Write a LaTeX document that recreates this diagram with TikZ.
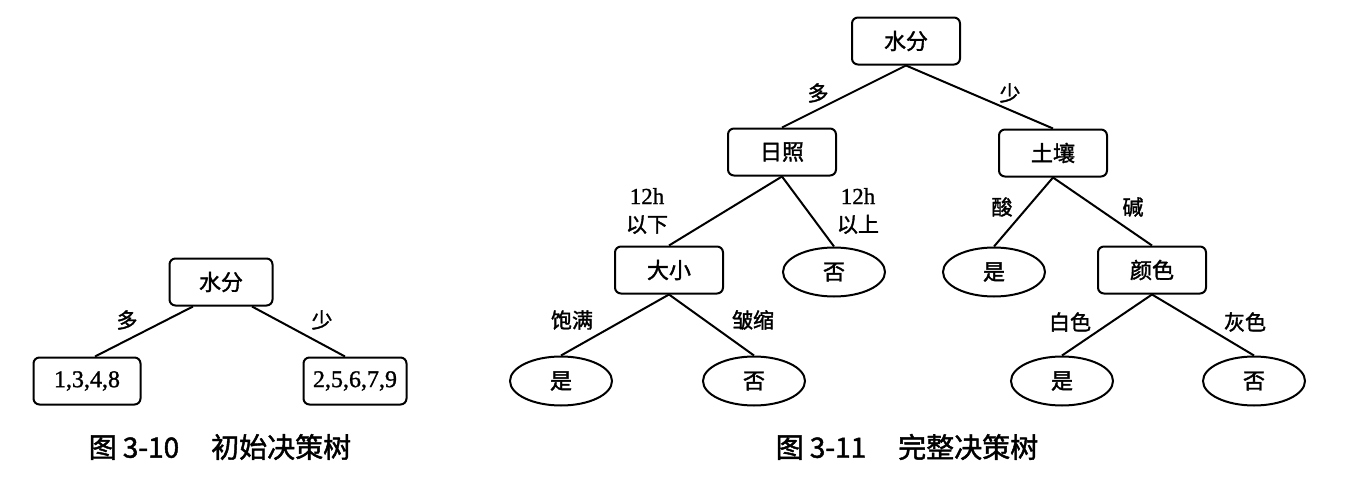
\documentclass[tikz,border=0pt]{standalone}
\usepackage{fontspec}
\setmainfont{Liberation Serif}[RawFeature={embolden=1.2}]
\newfontfamily\cjk{Noto Sans CJK SC}[RawFeature={embolden=1.6}]
\usetikzlibrary{shapes.geometric}

\begin{document}
\begin{tikzpicture}[x=1pt,y=-1pt,line width=2pt,
   every node/.style={font=\cjk\fontsize{22}{24}\selectfont},
   attr/.style={draw,rounded corners=6pt,minimum width=108pt,minimum height=47pt,inner sep=2pt},
   leaf/.style={draw,ellipse,minimum width=102pt,minimum height=49pt,inner sep=0pt},
   nums/.style={attr,font=\fontsize{24}{26}\selectfont},
   lbl/.style={font=\cjk\fontsize{21}{28}\selectfont,align=center},
   caption/.style={font=\cjk\fontsize{28}{30}\selectfont}]
  \useasboundingbox (0,0) rectangle (1345,482);

  % initial tree
  \node[attr,minimum width=103pt] (W1) at (221,282) {水分};
  \node[nums,minimum width=107pt] (S1) at (87,381) {1,3,4,8};
  \node[nums,minimum width=103pt] (S2) at (355,381) {2,5,6,7,9};
  \draw ([xshift=-28pt]W1.south) -- ([xshift=8pt]S1.north);
  \draw ([xshift=31pt]W1.south) -- ([xshift=-10pt]S2.north);
  \node[lbl] (L1a) at (127,320) {多};
  \node[lbl] (L1b) at (322,320) {少};
  \node[caption] (C1) at (220,447) {图\hspace{6pt}3-10\hspace{32pt}初始决策树};

  % complete tree
  \node[attr] (W2) at (906,41)  {水分};
  \node[attr] (SUN) at (782,152) {日照};
  \node[attr] (SOIL) at (1053,153) {土壤};
  \node[attr] (SIZE) at (669,270) {大小};
  \node[leaf] (N1) at (834,272) {否};
  \node[leaf] (Y1) at (994,272) {是};
  \node[attr] (COL) at (1152,270) {颜色};
  \node[leaf] (Y2) at (561,381) {是};
  \node[leaf] (N2) at (754,381) {否};
  \node[leaf] (Y3) at (1062,381) {是};
  \node[leaf] (N3) at (1254,381) {否};

  \path (W2.south)   edge (SUN.north)  edge (SOIL.north)
        (SUN.south)  edge (SIZE.north) edge (N1.north)
        (SOIL.south) edge (Y1.north)   edge (COL.north)
        (SIZE.south) edge (Y2.north)   edge (N2.north)
        (COL.south)  edge (Y3.north)   edge (N3.north);

  \node[lbl] (L2a) at (818,93)  {多};
  \node[lbl] (L2b) at (1010,93) {少};
  \node[lbl] (L3a) at (647,211) {{\rmfamily\fontsize{23}{28}\selectfont 12h}\\以下};
  \node[lbl] (L3b) at (858,211) {{\rmfamily\fontsize{23}{28}\selectfont 12h}\\以上};
  \node[lbl] (L4a) at (1002,207) {酸};
  \node[lbl] (L4b) at (1133,207) {碱};
  \node[lbl] (L5a) at (572,320)  {饱满};
  \node[lbl] (L5b) at (753,320)  {皱缩};
  \node[lbl] (L6a) at (1070,322) {白色};
  \node[lbl] (L6b) at (1245,322) {灰色};
  \node[caption] (C2) at (907,447) {图\hspace{6pt}3-11\hspace{32pt}完整决策树};
\end{tikzpicture}
\end{document}
